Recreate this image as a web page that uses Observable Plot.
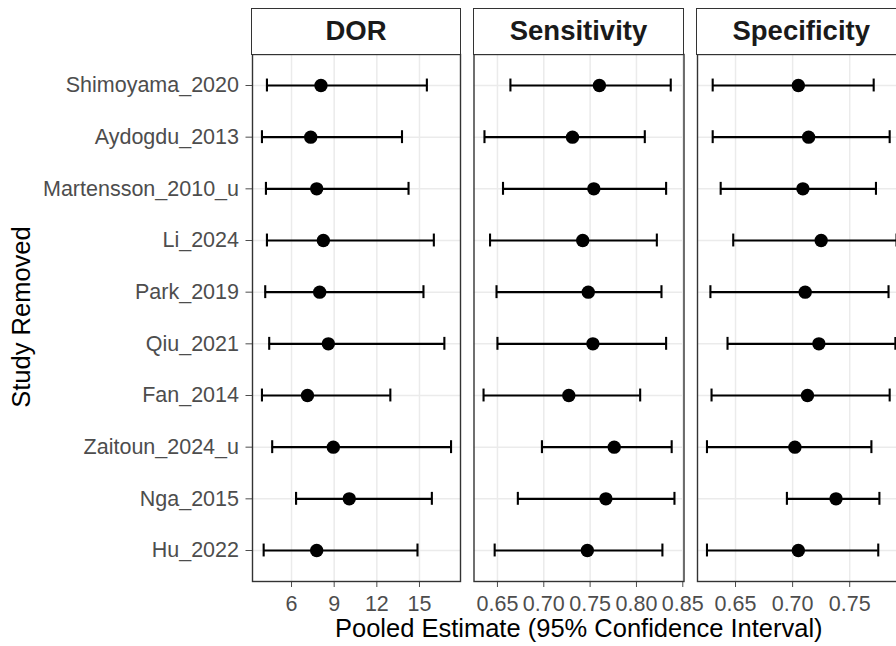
<!DOCTYPE html>
<html>
<head>
<meta charset="utf-8">
<script src="https://cdn.jsdelivr.net/npm/d3@7"></script>
<script src="https://cdn.jsdelivr.net/npm/@observablehq/plot@0.6"></script>
<style>
  html, body { margin: 0; padding: 0; background: white; }
  #chart { position: relative; width: 896px; height: 646px; overflow: hidden; background: white;
           font-family: "Liberation Sans", Arial, sans-serif; }
  #chart svg { position: absolute; left: 0; top: 0; }
  .strip { position: absolute; box-sizing: border-box; border: 1.4px solid #333; background: white;
           display: flex; align-items: center; justify-content: center;
           font-weight: bold; font-size: 27.5px; color: #1a1a1a; }
  .title { position: absolute; white-space: nowrap; color: black; font-size: 25.5px; line-height: 1; }
</style>
</head>
<body>
<div id="chart"></div>
<script>
// ---- data ----
const studies = ["Shimoyama_2020","Aydogdu_2013","Martensson_2010_u","Li_2024","Park_2019",
                 "Qiu_2021","Fan_2014","Zaitoun_2024_u","Nga_2015","Hu_2022"];
const panels = ["DOR","Sensitivity","Specificity"];

const dorEst   = [8.07, 7.35, 7.77, 8.24, 7.98, 8.59, 7.12, 8.94, 10.06, 7.77];
const dorLower = [4.27, 3.92, 4.20, 4.27, 4.15, 4.43, 3.92, 4.64, 6.32, 4.04];
const dorUpper = [15.52, 13.77, 14.23, 16.01, 15.28, 16.75, 12.95, 17.22, 15.87, 14.86];

const senEst   = [0.760, 0.731, 0.754, 0.742, 0.748, 0.753, 0.727, 0.776, 0.767, 0.747];
const senLower = [0.664, 0.636, 0.656, 0.642, 0.649, 0.650, 0.635, 0.698, 0.672, 0.647];
const senUpper = [0.837, 0.809, 0.832, 0.822, 0.827, 0.832, 0.804, 0.838, 0.841, 0.828];

const speEst   = [0.705, 0.714, 0.709, 0.725, 0.711, 0.723, 0.713, 0.702, 0.738, 0.705];
const speLower = [0.630, 0.630, 0.637, 0.648, 0.628, 0.643, 0.629, 0.625, 0.695, 0.625];
const speUpper = [0.771, 0.785, 0.773, 0.791, 0.784, 0.790, 0.785, 0.769, 0.776, 0.775];

const dorTicks = [6, 9, 12, 15];
const senTicks = [0.65, 0.70, 0.75, 0.80, 0.85];
const speTicks = [0.65, 0.70, 0.75];

const xTitle = "Pooled Estimate (95% Confidence Interval)";
const yTitle = "Study Removed";

// ---- layout ----
const H = 646, panelTop = 54, panelBottom = 581;
const chart = document.getElementById("chart");

function panel({est, lower, upper, ticks, fmt, x0, x1, showY, svgWidth}) {
  const data = studies.map((s, i) => ({study: s, est: est[i], lo: lower[i], hi: upper[i]}));
  const mn = d3.min(lower), mx = d3.max(upper), pad = (mx - mn) * 0.05;
  return Plot.plot({
    width: svgWidth, height: H,
    marginLeft: x0, marginRight: svgWidth - x1, marginTop: panelTop, marginBottom: H - panelBottom,
    style: {background: "transparent", fontFamily: "'Liberation Sans', Arial, sans-serif",
            fontSize: "21.5px", color: "#4d4d4d", maxWidth: "none", overflow: "visible"},
    x: {domain: [mn - pad, mx + pad], ticks, tickFormat: fmt, tickSize: 6, tickPadding: 8.5, label: null},
    y: {type: "band", domain: studies, paddingInner: 0.75, paddingOuter: 0.475, round: false,
        axis: showY ? "left" : null, tickSize: 6.5, tickPadding: 7, label: null},
    marks: [
      Plot.ruleX(ticks, {stroke: "#ebebeb", strokeWidth: 1.5}),
      Plot.ruleY(studies, {stroke: "#ebebeb", strokeWidth: 1.5}),
      Plot.ruleY(data, {y: "study", x1: "lo", x2: "hi", stroke: "black", strokeWidth: 2.1}),
      Plot.tickX(data, {x: "lo", y: "study", stroke: "black", strokeWidth: 2.1}),
      Plot.tickX(data, {x: "hi", y: "study", stroke: "black", strokeWidth: 2.1}),
      Plot.dot(data, {x: "est", y: "study", r: 6.7, fill: "black", stroke: "none"}),
      Plot.frame({stroke: "#333", strokeWidth: 1.4})
    ]
  });
}

const specs = [
  {est: dorEst, lower: dorLower, upper: dorUpper, ticks: dorTicks, fmt: d3.format("d"), x0: 252, x1: 460, showY: true, svgWidth: 896},
  {est: senEst, lower: senLower, upper: senUpper, ticks: senTicks, fmt: d3.format(".2f"), x0: 473.5, x1: 683.5, showY: false, svgWidth: 896},
  {est: speEst, lower: speLower, upper: speUpper, ticks: speTicks, fmt: d3.format(".2f"), x0: 697, x1: 905.5, showY: false, svgWidth: 920}
];

specs.forEach((s, i) => {
  chart.appendChild(panel(s));
  const strip = document.createElement("div");
  strip.className = "strip";
  strip.style.left = (s.x0 - 0.7) + "px";
  strip.style.top = "7.6px";
  strip.style.width = (s.x1 - s.x0 + 1.4) + "px";
  strip.style.height = (panelTop - 7.6 + 0.7) + "px";
  strip.textContent = panels[i];
  chart.appendChild(strip);
});

const xt = document.createElement("div");
xt.className = "title";
xt.textContent = xTitle;
xt.style.left = ((252 + 905.5) / 2) + "px";
xt.style.top = "616px";
xt.style.transform = "translateX(-50%)";
chart.appendChild(xt);

const yt = document.createElement("div");
yt.className = "title";
yt.textContent = yTitle;
yt.style.left = "22px";
yt.style.top = "317px";
yt.style.transform = "translate(-50%, -50%) rotate(-90deg)";
chart.appendChild(yt);
</script>
</body>
</html>
